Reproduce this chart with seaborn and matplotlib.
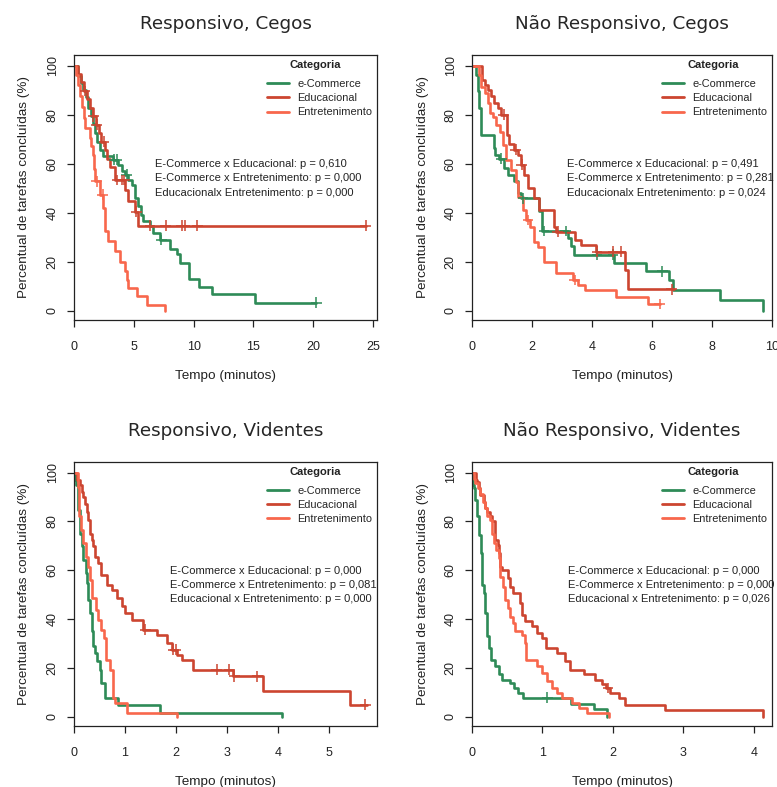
import numpy as np
import pandas as pd
import matplotlib.pyplot as plt
import seaborn as sns
from matplotlib.lines import Line2D

categorias = ['e-Commerce', 'Educacional', 'Entretenimento']
cores = ['#2e8b57', '#cc4530', '#f8674c']

# Responsivo, Cegos
rc_ecom_t = [0, 0.36, 0.56, 0.78, 1.0, 1.2, 1.39, 1.56, 1.75, 1.95, 2.17, 2.45, 3.29, 3.7, 3.98, 4.26, 4.54,
             4.82, 5.1, 5.38, 5.57, 5.79, 6.35, 6.57, 7.19, 8.02, 8.57, 8.85, 9.63, 10.44, 11.55, 15.17, 20.27]
rc_ecom_s = [100, 95.6, 93, 90, 87, 82.7, 79.3, 76, 72.5, 69, 65.7, 63, 61.6, 59.6, 56.9, 55.5, 53.5,
             51.4, 46, 42.6, 39.2, 36.5, 34.4, 31.7, 28.8, 25.2, 23, 19.3, 12.9, 9.8, 6.7, 3.2, 3.2]
rc_ecom_c = [3.34, 3.56, 4.4, 7.3, 20.27]
rc_educ_t = [0, 0.3, 0.55, 0.8, 1.05, 1.3, 1.55, 1.8, 2.05, 2.25, 2.55, 2.75, 3.05, 3.45, 4.26, 4.54, 5.1, 5.38, 24.4]
rc_educ_s = [100, 96.5, 93.1, 89.6, 86.2, 82.8, 79.3, 75.9, 72.4, 69, 65.5, 62, 58.6, 53.3, 49.3, 44.9, 40.4, 34.7, 34.7]
rc_educ_c = [0.92, 1.6, 1.9, 2.5, 3.6, 4.0, 4.2, 5.2, 6.35, 7.66, 9.0, 9.27, 10.3, 24.4]
rc_entr_t = [0, 0.2, 0.36, 0.5, 0.64, 0.8, 0.92, 1.34, 1.45, 1.6, 1.7, 1.75, 2.17, 2.45, 2.6, 2.87, 3.43,
             3.84, 4.26, 4.45, 4.54, 5.24, 6.07, 7.6]
rc_entr_s = [100, 96, 92, 87.5, 83, 78.5, 74.6, 70.5, 67, 63.7, 58, 52.8, 47.3, 41.8, 32.4, 28.3, 24.2,
             20, 16, 12.5, 9.3, 5.9, 2.5, 0]
rc_entr_c = [1.9, 2.4]

# Nao Responsivo, Cegos
nc_ecom_t = [0, 0.13, 0.19, 0.24, 0.3, 0.72, 0.77, 0.91, 1.06, 1.21, 1.41, 1.52, 1.63, 2.24, 2.32, 3.19,
             3.3, 3.39, 4.72, 5.8, 6.58, 6.69, 8.26, 9.7]
nc_ecom_s = [100, 96.3, 89.5, 82.7, 71.8, 66.4, 63.7, 62, 58.2, 55.5, 52.8, 48, 45.8, 40.5, 32.5, 29.6,
             26.3, 22.9, 19.5, 16.1, 12.7, 8.5, 4.3, 0]
nc_ecom_c = [0.98, 1.7, 2.4, 3.12, 4.17, 4.7, 6.34]
nc_educ_t = [0, 0.33, 0.43, 0.52, 0.63, 0.74, 0.86, 0.97, 1.17, 1.24, 1.41, 1.52, 1.63, 1.74, 1.86, 2.08,
             2.24, 2.73, 2.8, 3.44, 3.64, 4.14, 5.1, 5.2, 6.72]
nc_educ_s = [100, 94.3, 92.2, 90.2, 87.5, 84.8, 82.7, 80, 71.8, 67.8, 65.7, 63.7, 59.6, 55.5, 50, 46,
             41.2, 34.3, 32.2, 28.8, 26.8, 24, 16.6, 8.7, 8.7]
nc_educ_c = [1.05, 1.45, 1.65, 2.85, 4.17, 4.7, 4.95, 6.65]
nc_entr_t = [0, 0.22, 0.31, 0.42, 0.53, 0.59, 0.7, 0.81, 0.92, 1.03, 1.12, 1.31, 1.46, 1.53, 1.7, 1.81,
             1.92, 2.06, 2.2, 2.39, 2.81, 3.37, 3.53, 3.76, 4.81, 5.87, 6.26]
nc_entr_s = [100, 96, 91.4, 88.6, 84.6, 80.5, 79, 75.8, 73, 67.6, 61.5, 57.4, 52.6, 46.5, 41, 37,
             34.3, 28.2, 26, 20, 15.5, 12.5, 10.5, 8.4, 5.7, 2.7, 2.7]
nc_entr_c = [1.87, 3.42, 6.26]

# Responsivo, Videntes
rv_ecom_t = [0, 0.02, 0.04, 0.07, 0.085, 0.12, 0.15, 0.18, 0.24, 0.26, 0.28, 0.31, 0.35, 0.38, 0.41,
             0.45, 0.51, 0.54, 0.6, 0.87, 1.68, 4.08]
rv_ecom_s = [100, 97, 95, 89.4, 84.6, 75, 69.7, 64.2, 58.8, 54.7, 47.9, 42.4, 35, 28.8, 26,
             22.7, 19.3, 13.9, 7.8, 5, 1.6, 0]
rv_ecom_c = []
rv_educ_t = [0, 0.05, 0.12, 0.15, 0.18, 0.22, 0.26, 0.28, 0.31, 0.35, 0.38, 0.41, 0.48, 0.54, 0.64, 0.74,
             0.84, 0.94, 1.0, 1.13, 1.35, 1.63, 1.82, 1.92, 2.02, 2.12, 2.33, 3.13, 3.72, 5.41, 5.75]
rv_educ_s = [100, 96.9, 94.8, 92, 90, 87.3, 84, 80.5, 75, 72.4, 69.7, 65.6, 62.9, 58, 54, 52,
             48.6, 45.2, 42.4, 39.7, 35.6, 33.6, 30.2, 27.5, 25.4, 23.4, 19.3, 16.6, 10.5, 5, 5]
rv_educ_c = [1.4, 1.95, 2.0, 2.8, 3.05, 3.15, 3.6, 5.72]
rv_entr_t = [0, 0.07, 0.1, 0.14, 0.18, 0.24, 0.28, 0.31, 0.35, 0.43, 0.48, 0.54, 0.58, 0.63, 0.71,
             0.76, 0.77, 0.81, 1.05, 2.02]
rv_entr_s = [100, 94, 82, 76.5, 71, 65.6, 61.5, 56, 48.6, 43.8, 39.7, 35.6, 32.2, 23.4, 19.3,
             12.5, 7.8, 5.7, 1.6, 0]
rv_entr_c = []

# Nao Responsivo, Videntes
nv_ecom_t = [0, 0.01, 0.024, 0.047, 0.071, 0.095, 0.128, 0.142, 0.166, 0.19, 0.213, 0.237, 0.27, 0.32,
             0.38, 0.43, 0.54, 0.59, 0.65, 0.72, 1.4, 1.73, 1.91]
nv_ecom_s = [100, 95, 93.5, 88.8, 82, 74.4, 67, 54, 50.6, 42.4, 33, 28, 23.4, 20.7,
             17.3, 15.2, 13.9, 11.8, 9.8, 7.8, 5.4, 3, 0]
nv_ecom_c = [1.07]
nv_educ_t = [0, 0.05, 0.071, 0.095, 0.118, 0.166, 0.19, 0.213, 0.25, 0.284, 0.33, 0.364, 0.379, 0.40,
             0.426, 0.506, 0.544, 0.58, 0.686, 0.71, 0.757, 0.852, 0.923, 0.994, 1.056, 1.207, 1.325,
             1.396, 1.586, 1.75, 1.846, 1.908, 1.964, 2.083, 2.178, 2.746, 4.13]
nv_educ_s = [100, 97, 96, 93.5, 90.7, 88, 85.3, 84, 82, 80, 72.4, 70.3, 67, 61.5,
             60, 56.7, 53.3, 50.6, 46.5, 41.8, 39, 37, 34.3, 32.2, 28, 26, 22.7,
             19.3, 17.3, 15.2, 13.2, 11.8, 9.8, 7.8, 4.6, 2.7, 0]
nv_educ_c = [1.93]
nv_entr_t = [0, 0.024, 0.047, 0.08, 0.118, 0.156, 0.19, 0.213, 0.25, 0.284, 0.317, 0.346, 0.379, 0.40,
             0.44, 0.473, 0.506, 0.544, 0.58, 0.615, 0.71, 0.757, 0.77, 0.923, 0.994, 1.065, 1.136,
             1.207, 1.278, 1.42, 1.515, 1.633, 1.94]
nv_entr_s = [100, 97.5, 95.5, 93.5, 91.4, 88, 85.3, 82, 80.5, 75, 71, 68.3, 65, 57.4,
             53.3, 47.9, 44.5, 41, 38.4, 35, 33.6, 30.2, 23.4, 20.7, 18, 14.6, 11.8,
             9.8, 7.8, 5.7, 3.7, 1.6, 0]
nv_entr_c = []

titulos = ['Responsivo, Cegos', 'Não Responsivo, Cegos', 'Responsivo, Videntes', 'Não Responsivo, Videntes']
pvalores = [
    ['E-Commerce x Educacional: p = 0,610', 'E-Commerce x Entretenimento: p = 0,000',
     'Educacionalx Entretenimento: p = 0,000'],
    ['E-Commerce x Educacional: p = 0,491', 'E-Commerce x Entretenimento: p = 0,281',
     'Educacionalx Entretenimento: p = 0,024'],
    ['E-Commerce x Educacional: p = 0,000', 'E-Commerce x Entretenimento: p = 0,081',
     'Educacional x Entretenimento: p = 0,000'],
    ['E-Commerce x Educacional: p = 0,000', 'E-Commerce x Entretenimento: p = 0,000',
     'Educacional x Entretenimento: p = 0,026'],
]
xticks = [[0, 5, 10, 15, 20, 25], [0, 2, 4, 6, 8, 10], [0, 1, 2, 3, 4, 5], [0, 1, 2, 3, 4]]
xmaxs = [25.33, 10.0, 5.95, 4.26]

paineis = [
    ([rc_ecom_t, rc_educ_t, rc_entr_t], [rc_ecom_s, rc_educ_s, rc_entr_s], [rc_ecom_c, rc_educ_c, rc_entr_c]),
    ([nc_ecom_t, nc_educ_t, nc_entr_t], [nc_ecom_s, nc_educ_s, nc_entr_s], [nc_ecom_c, nc_educ_c, nc_entr_c]),
    ([rv_ecom_t, rv_educ_t, rv_entr_t], [rv_ecom_s, rv_educ_s, rv_entr_s], [rv_ecom_c, rv_educ_c, rv_entr_c]),
    ([nv_ecom_t, nv_educ_t, nv_entr_t], [nv_ecom_s, nv_educ_s, nv_entr_s], [nv_ecom_c, nv_educ_c, nv_entr_c]),
]


def montar(tempos, pcts, cens):
    '''monta as curvas em degrau e as marcas de censura (valor da curva no tempo censurado)'''
    curvas = []
    marcas = []
    for cat, t, s, c in zip(categorias, tempos, pcts, cens):
        curvas.append(pd.DataFrame({'tempo': t, 'pct': s, 'categoria': cat}))
        if len(c):
            idx = np.searchsorted(np.asarray(t), c, side='right') - 1
            marcas.append(pd.DataFrame({'tempo': c, 'pct': np.asarray(s)[idx], 'categoria': cat}))
    return pd.concat(curvas, ignore_index=True), pd.concat(marcas, ignore_index=True)


sns.set_style('white')
plt.rcParams['font.family'] = ['Liberation Sans', 'DejaVu Sans']

fig = plt.figure(figsize=(7.77, 7.87), dpi=100)
W, H = 777, 787
# caixas dos graficos em pixels: esquerda, topo, direita, base
caixas = [(74, 55, 377, 320), (472, 55, 772, 320), (74, 462, 377, 726), (472, 462, 772, 726)]
paleta = dict(zip(categorias, cores))
# posicao do texto dos p-valores e do titulo da legenda (fracao do eixo)
texto_x = [0.268, 0.316, 0.317, 0.32]
categoria_x = [0.795, 0.803, 0.795, 0.804]

for i, (tempos, pcts, cens) in enumerate(paineis):
    l, t, r, b = caixas[i]
    ax = fig.add_axes([l / W, 1 - b / H, (r - l) / W, (b - t) / H])
    curvas, marcas = montar(tempos, pcts, cens)
    sns.lineplot(data=curvas, x='tempo', y='pct', hue='categoria', palette=paleta, estimator=None,
                 sort=False, drawstyle='steps-post', linewidth=1.9, legend=False, ax=ax)
    sns.scatterplot(data=marcas, x='tempo', y='pct', hue='categoria', palette=paleta, marker='+',
                    s=60, linewidth=1.1, legend=False, ax=ax, zorder=3)
    ax.set_xlim(0, xmaxs[i])
    ax.set_ylim(-3.8, 104.3)
    ax.set_xticks(xticks[i])
    ax.set_yticks([0, 20, 40, 60, 80, 100])
    ax.tick_params(axis='both', direction='out', length=5, width=0.9, labelsize=9,
                   colors='#222222', bottom=True, left=True)
    ax.tick_params(axis='x', pad=10)
    ax.tick_params(axis='y', pad=6)
    for lab in ax.get_yticklabels():
        lab.set_rotation(90)
        lab.set_va('center')
    for sp in ax.spines.values():
        sp.set_color('#222222')
        sp.set_linewidth(0.9)
    ax.set_xlabel('Tempo (minutos)', fontsize=9.7, color='#222222')
    ax.set_ylabel('Percentual de tarefas concluídas (%)', fontsize=9.7, color='#222222')
    ax.xaxis.set_label_coords(0.5, -0.19)
    ax.yaxis.set_label_coords(-0.145, 0.5)
    ax.set_title(titulos[i], fontsize=13.2, family='DejaVu Sans', pad=19)

    alcas = [Line2D([], [], color=c, lw=2) for c in cores]
    ax.legend(alcas, categorias, loc='center right', bbox_to_anchor=(0.985, 0.837),
              frameon=False, fontsize=7.9, handlelength=2.0, handletextpad=0.8, labelspacing=0.38,
              borderaxespad=0, borderpad=0)
    ax.text(categoria_x[i], 0.963, 'Categoria', transform=ax.transAxes, fontsize=8, fontweight='bold',
            ha='center', va='center', color='#222222')
    for k, linha in enumerate(pvalores[i]):
        ax.text(texto_x[i], 0.588 - k * 0.054, linha, transform=ax.transAxes, fontsize=8, va='center',
                ha='left', color='#222222')

fig.savefig('out.png', dpi=100)
